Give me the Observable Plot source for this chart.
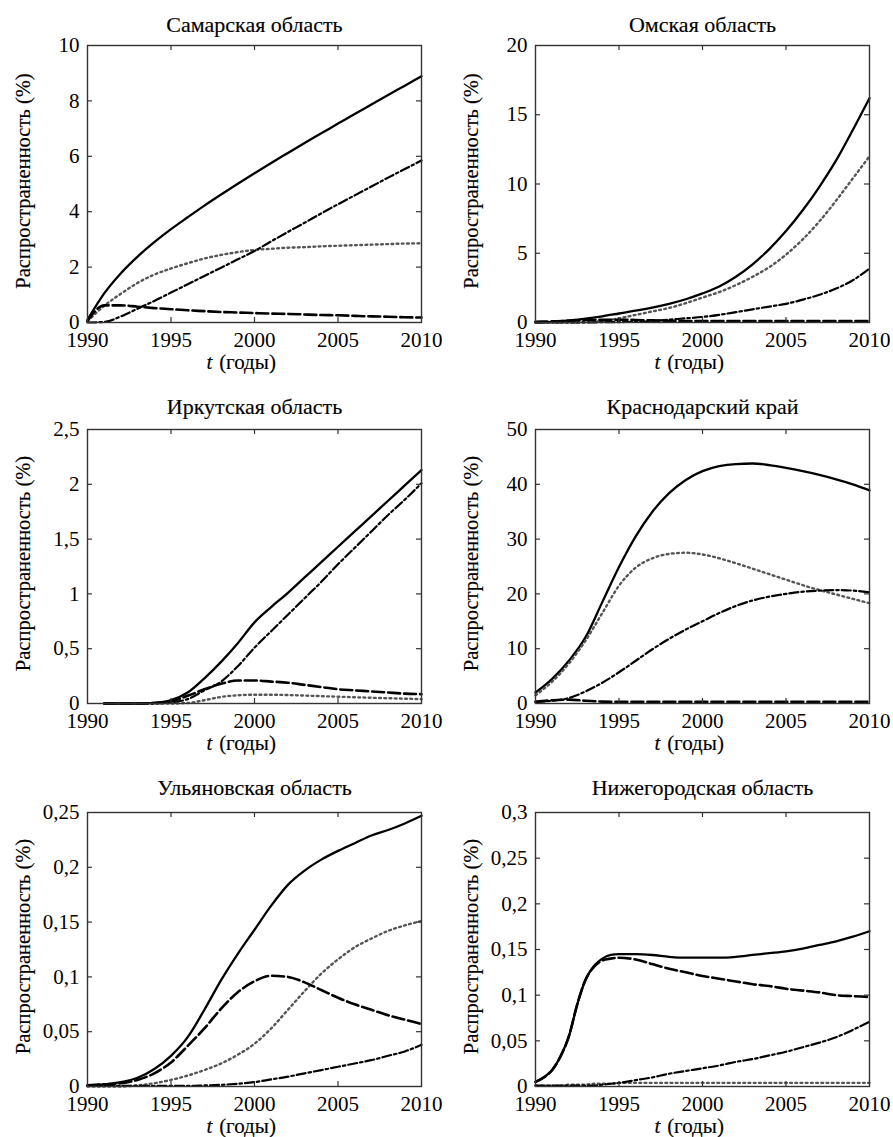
<!DOCTYPE html>
<html><head><meta charset="utf-8">
<script src="https://cdn.jsdelivr.net/npm/d3@7"></script>
<script src="https://cdn.jsdelivr.net/npm/@observablehq/plot@0.6"></script>
<style>
body{margin:0;background:#fff;}
#wrap{position:relative;width:893px;height:1137px;background:#fff;}
.cell{position:absolute;}
</style></head><body><div id="wrap"></div>
<script>
// ---------- data ----------
const years = [1990,1991,1992,1993,1994,1995,1996,1997,1998,1999,2000,2001,2002,2003,2004,2005,2006,2007,2008,2009,2010];
const irkYears = [1991,1992,1993,1994,1995,1996,1997,1998,1999,2000,2001,2002,2003,2004,2005,2006,2007,2008,2009,2010];
const nnYears = [1990,1990.5,1991,1991.5,1992,1992.5,1993,1993.5,1994,1994.5,1995,1996,1997,1998,1999,2000,2001,2002,2003,2004,2005,2006,2007,2008,2009,2010];
const xTicks = [1990,1995,2000,2005,2010];

const titles = ["Самарская область","Омская область","Иркутская область","Краснодарский край","Ульяновская область","Нижегородская область"];
const yLabel = "Распространенность (%)";
const xLabelVar = "t";
const xLabelUnit = "(годы)";

const samaraTicks = [0,2,4,6,8,10];
const omskTicks = [0,5,10,15,20];
const irkTicks = [0,0.5,1,1.5,2,2.5];
const krTicks = [0,10,20,30,40,50];
const ulTicks = [0,0.05,0.1,0.15,0.2,0.25];
const nnTicks = [0,0.05,0.1,0.15,0.2,0.25,0.3];

// series order: solid, dotted, dash-dot, dashed
const samaraSolid   = [0.1,1.05,1.78,2.38,2.9,3.37,3.8,4.22,4.62,5.01,5.39,5.76,6.12,6.48,6.83,7.18,7.53,7.87,8.21,8.55,8.89];
const samaraDotted  = [0.05,0.6,1.04,1.43,1.73,1.95,2.14,2.31,2.44,2.54,2.62,2.66,2.7,2.72,2.75,2.77,2.79,2.81,2.83,2.85,2.86];
const samaraDashDot = [0,0.02,0.22,0.5,0.78,1.08,1.38,1.68,1.98,2.28,2.58,2.93,3.27,3.6,3.94,4.27,4.59,4.91,5.23,5.54,5.85];
const samaraDashed  = [0.05,0.62,0.62,0.57,0.52,0.48,0.44,0.41,0.38,0.36,0.34,0.32,0.31,0.29,0.27,0.26,0.24,0.22,0.21,0.19,0.18];

const omskSolid   = [0,0.05,0.15,0.28,0.45,0.65,0.85,1.08,1.35,1.68,2.1,2.6,3.3,4.2,5.3,6.6,8.1,9.8,11.7,13.9,16.2];
const omskDotted  = [0,0,0,0.02,0.1,0.3,0.55,0.8,1.05,1.4,1.8,2.2,2.7,3.3,4.0,4.9,6.0,7.3,8.8,10.4,12.0];
const omskDashDot = [0,0,0,0,0.02,0.03,0.05,0.1,0.2,0.3,0.4,0.55,0.75,0.95,1.15,1.35,1.65,2.0,2.45,3.05,3.9];
const omskDashed  = [0.05,0.08,0.12,0.18,0.2,0.2,0.18,0.15,0.12,0.1,0.1,0.1,0.1,0.1,0.1,0.1,0.1,0.1,0.1,0.1,0.1];

const irkSolid   = [0,0,0,0.005,0.03,0.1,0.23,0.38,0.55,0.74,0.88,1.01,1.15,1.29,1.43,1.57,1.71,1.85,1.99,2.13];
const irkDotted  = [0,0,0,0,0,0.005,0.03,0.06,0.075,0.08,0.08,0.077,0.072,0.067,0.062,0.057,0.052,0.048,0.044,0.04];
const irkDashDot = [0,0,0,0,0.01,0.04,0.12,0.2,0.34,0.51,0.66,0.81,0.96,1.11,1.27,1.42,1.57,1.72,1.86,2.01];
const irkDashed  = [0,0,0,0.005,0.02,0.07,0.13,0.18,0.21,0.21,0.2,0.19,0.17,0.15,0.13,0.12,0.11,0.1,0.09,0.085];

const krSolid   = [2.0,4.5,7.8,12.1,18.5,24.9,30.5,35.0,38.4,40.8,42.4,43.3,43.7,43.8,43.5,43.0,42.4,41.7,40.9,40.0,38.9];
const krDotted  = [1.5,4.0,7.3,11.5,16.5,21.5,24.8,26.5,27.3,27.5,27.2,26.5,25.6,24.6,23.6,22.6,21.6,20.7,19.9,19.1,18.3];
const krDashDot = [0.3,0.5,1.0,2.2,3.8,5.7,7.8,9.9,11.8,13.5,15.0,16.5,17.8,18.8,19.5,20.0,20.4,20.6,20.7,20.6,20.3];
const krDashed  = [0.3,0.6,0.7,0.5,0.35,0.3,0.3,0.3,0.3,0.3,0.3,0.3,0.3,0.3,0.3,0.3,0.3,0.3,0.3,0.3,0.3];

const ulSolid   = [0.001,0.002,0.004,0.008,0.016,0.028,0.045,0.07,0.097,0.121,0.143,0.165,0.184,0.197,0.207,0.215,0.222,0.229,0.234,0.24,0.247];
const ulDotted  = [0,0,0,0.001,0.003,0.006,0.01,0.015,0.021,0.029,0.039,0.053,0.07,0.087,0.103,0.116,0.127,0.135,0.142,0.147,0.151];
const ulDashDot = [0.0005,0.0005,0.0005,0.0005,0.0005,0.0005,0.0005,0.001,0.0015,0.0025,0.004,0.0065,0.009,0.012,0.015,0.018,0.021,0.024,0.028,0.032,0.038];
const ulDashed  = [0.001,0.002,0.003,0.006,0.012,0.022,0.037,0.053,0.071,0.086,0.096,0.101,0.1,0.095,0.088,0.081,0.075,0.07,0.065,0.061,0.057];

const nnSolid   = [0.005,0.01,0.018,0.033,0.055,0.09,0.117,0.132,0.14,0.144,0.145,0.145,0.144,0.142,0.141,0.141,0.141,0.142,0.144,0.146,0.148,0.151,0.155,0.159,0.164,0.17];
const nnDotted  = [0.001,0.001,0.001,0.001,0.002,0.002,0.002,0.003,0.003,0.003,0.004,0.004,0.004,0.004,0.004,0.004,0.004,0.004,0.004,0.004,0.004,0.004,0.004,0.004,0.004,0.004];
const nnDashDot = [0.001,0.001,0.001,0.001,0.001,0.001,0.001,0.001,0.002,0.003,0.004,0.007,0.01,0.014,0.017,0.02,0.023,0.027,0.03,0.034,0.038,0.043,0.048,0.054,0.062,0.071];
const nnDashed  = [0.005,0.01,0.018,0.033,0.055,0.09,0.117,0.131,0.138,0.14,0.141,0.139,0.134,0.129,0.125,0.121,0.118,0.115,0.112,0.11,0.107,0.105,0.103,0.1,0.099,0.098];

// ---------- layout / style ----------
const lineStyles = [
  {stroke:"#000", strokeWidth:2.3},
  {stroke:"#555", strokeWidth:2.4, strokeDasharray:"1.8,3.4"},
  {stroke:"#000", strokeWidth:2.2, strokeDasharray:"9,3,2.5,3"},
  {stroke:"#000", strokeWidth:2.6, strokeDasharray:"12,4"}
];
const rows = [{top:0,h:372,mt:45,fh:277,td:21},{top:372,h:380,mt:57,fh:274,td:23},{top:752,h:385,mt:60,fh:274,td:25}];
const cols = [{left:0,w:446,ml:87,mr:25},{left:446,w:447,ml:89,mr:24}];
const FONT = "Liberation Serif";
const fmt = d => String(d).replace(".", ",");

const panels = [
  {row:0,col:0,yDomain:[0,10], yTicks:samaraTicks, x:years, series:[samaraSolid,samaraDotted,samaraDashDot,samaraDashed]},
  {row:0,col:1,yDomain:[0,20], yTicks:omskTicks, x:years, series:[omskSolid,omskDotted,omskDashDot,omskDashed]},
  {row:1,col:0,yDomain:[0,2.5], yTicks:irkTicks, x:irkYears, series:[irkSolid,irkDotted,irkDashDot,irkDashed]},
  {row:1,col:1,yDomain:[0,50], yTicks:krTicks, x:years, series:[krSolid,krDotted,krDashDot,krDashed]},
  {row:2,col:0,yDomain:[0,0.25], yTicks:ulTicks, x:years, series:[ulSolid,ulDotted,ulDashDot,ulDashed]},
  {row:2,col:1,yDomain:[0,0.3], yTicks:nnTicks, x:nnYears, series:[nnSolid,nnDotted,nnDashDot,nnDashed]}
];

const wrap = document.getElementById("wrap");
panels.forEach((p, idx) => {
  const r = rows[p.row], c = cols[p.col];
  const fw = c.w - c.ml - c.mr, fh = r.fh;
  const mb = r.h - r.mt - fh;
  const inner = p.yTicks.slice(1, -1);
  const T = {fontFamily: FONT, fill: "#000", stroke: "#000", strokeWidth: 0.15};
  const chart = Plot.plot({
    width: c.w, height: r.h,
    marginLeft: c.ml, marginRight: c.mr, marginTop: r.mt, marginBottom: mb,
    style: {fontFamily: FONT, background: "transparent", overflow: "visible"},
    x: {domain: [1990, 2010], label: null},
    y: {domain: p.yDomain, label: null},
    marks: [
      ...p.series.map((vals, i) => Plot.lineY(vals.map((v, j) => ({t: p.x[j], v})), {x: "t", y: "v", curve: "monotone-x", ...lineStyles[i]})),
      Plot.tickX(xTicks.slice(1, -1), {x: d => d, insetTop: fh - 5, stroke: "#333", strokeWidth: 1.2}),
      Plot.tickX(xTicks.slice(1, -1), {x: d => d, insetBottom: fh - 5, stroke: "#333", strokeWidth: 1.2}),
      Plot.tickY(inner, {y: d => d, insetRight: fw - 5, stroke: "#333", strokeWidth: 1.2}),
      Plot.tickY(inner, {y: d => d, insetLeft: fw - 5, stroke: "#333", strokeWidth: 1.2}),
      Plot.frame({stroke: "#333", strokeWidth: 1.4}),
      Plot.axisX(xTicks, {tickSize: 0, tickPadding: 10, fontSize: 21, tickFormat: d => String(d), label: null, ...T}),
      Plot.axisY(p.yTicks, {tickSize: 0, tickPadding: 8, fontSize: 21, tickFormat: fmt, label: null, ...T}),
      Plot.text([titles[idx]], {frameAnchor: "top", dy: -r.td, fontSize: 22, lineAnchor: "middle", ...T}),
      Plot.text([yLabel], {frameAnchor: "left", rotate: -90, dx: -64, dy: -3, fontSize: 20.5, textAnchor: "middle", lineAnchor: "middle", ...T}),
      Plot.text([xLabelVar], {frameAnchor: "bottom", dx: -45, dy: 40, fontSize: 21, fontStyle: "italic", lineAnchor: "middle", ...T}),
      Plot.text([xLabelUnit], {frameAnchor: "bottom", dx: -7, dy: 40, fontSize: 21, lineAnchor: "middle", ...T})
    ]
  });
  const d = document.createElement("div");
  d.className = "cell";
  d.style.left = c.left + "px";
  d.style.top = r.top + "px";
  d.appendChild(chart);
  wrap.appendChild(d);
});
</script>
</body></html>
